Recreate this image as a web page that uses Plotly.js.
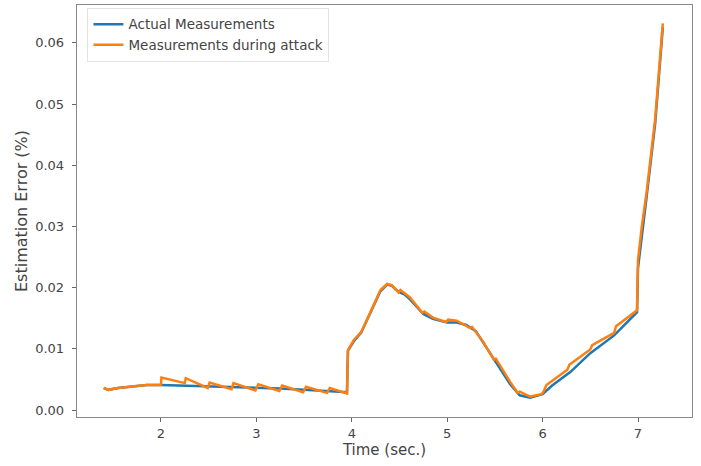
<!DOCTYPE html>
<html>
<head>
<meta charset="utf-8">
<script src="https://cdn.plot.ly/plotly-3.0.1.min.js"></script>
<style>html,body{margin:0;padding:0;background:#fff;}#chart{width:701px;height:466px;}</style>
</head>
<body>
<div id="chart"></div>
<script>
const seriesNames = ["Actual Measurements", "Measurements during attack"];

const actualTime = [1.40, 1.45, 1.55, 1.70, 1.85, 2.00, 2.25, 2.50, 2.75, 3.00, 3.25, 3.50, 3.75, 3.95, 3.96, 4.02, 4.10, 4.19, 4.30, 4.37, 4.42, 4.49, 4.55, 4.61, 4.75, 4.85, 5.00, 5.10, 5.20, 5.30, 5.38, 5.52, 5.66, 5.76, 5.87, 6.00, 6.10, 6.29, 6.50, 6.75, 6.99, 7.00, 7.04, 7.09, 7.18, 7.26];
const actualError = [0.0036, 0.0033, 0.0036, 0.0039, 0.0041, 0.0041, 0.0040, 0.0039, 0.0038, 0.0036, 0.0035, 0.0033, 0.0031, 0.0029, 0.0097, 0.0112, 0.0127, 0.0156, 0.0194, 0.0205, 0.0203, 0.0193, 0.0189, 0.0181, 0.0157, 0.0149, 0.0143, 0.0143, 0.0139, 0.0129, 0.0110, 0.0075, 0.0042, 0.0024, 0.0020, 0.0026, 0.0040, 0.0062, 0.0093, 0.0122, 0.0160, 0.0232, 0.0288, 0.0348, 0.0468, 0.0626];

const attackTime = [1.40, 1.45, 1.55, 1.70, 1.85, 2.00, 2.005, 2.25, 2.26, 2.49, 2.51, 2.74, 2.76, 2.99, 3.02, 3.24, 3.27, 3.49, 3.52, 3.74, 3.77, 3.95, 3.96, 4.02, 4.10, 4.19, 4.30, 4.37, 4.42, 4.49, 4.51, 4.61, 4.74, 4.76, 4.85, 4.99, 5.01, 5.10, 5.24, 5.26, 5.38, 5.49, 5.51, 5.66, 5.74, 5.76, 5.87, 5.99, 6.01, 6.04, 6.26, 6.28, 6.50, 6.52, 6.75, 6.77, 6.99, 7.00, 7.04, 7.09, 7.18, 7.26];
const attackError = [0.0036, 0.0033, 0.0036, 0.0039, 0.0041, 0.0041, 0.0053, 0.0044, 0.0052, 0.0036, 0.0045, 0.0034, 0.0044, 0.0032, 0.0042, 0.0031, 0.0040, 0.0029, 0.0038, 0.0028, 0.0036, 0.0027, 0.0098, 0.0114, 0.0128, 0.0158, 0.0196, 0.0206, 0.0204, 0.0192, 0.0196, 0.0184, 0.0159, 0.0161, 0.0151, 0.0144, 0.0148, 0.0146, 0.0134, 0.0136, 0.0111, 0.0082, 0.0084, 0.0046, 0.0028, 0.0030, 0.0022, 0.0026, 0.0030, 0.0041, 0.0066, 0.0074, 0.0099, 0.0106, 0.0126, 0.0137, 0.0163, 0.0245, 0.0300, 0.0356, 0.0476, 0.0632];

const xTicks = [2, 3, 4, 5, 6, 7];
const yTicks = [0, 0.01, 0.02, 0.03, 0.04, 0.05, 0.06];
const yTickText = ["0.00", "0.01", "0.02", "0.03", "0.04", "0.05", "0.06"];

const traces = [
  {x: actualTime, y: actualError, name: seriesNames[0], mode: "lines", line: {color: "#1f77b4", width: 2.5}},
  {x: attackTime, y: attackError, name: seriesNames[1], mode: "lines", line: {color: "#ff7f0e", width: 2.5}}
];

const axisCommon = {
  showgrid: false, zeroline: false, showline: true, mirror: true,
  linecolor: "#888", linewidth: 1.3,
  ticks: "outside", ticklen: 4, tickwidth: 1, tickcolor: "#666",
  tickfont: {family: "DejaVu Sans", size: 13, color: "#444"}
};

const layout = {
  width: 701, height: 466,
  margin: {l: 77, r: 9, t: 5, b: 49},
  paper_bgcolor: "#fff", plot_bgcolor: "#fff",
  font: {family: "DejaVu Sans", color: "#444"},
  showlegend: true,
  legend: {x: 0.017, y: 0.993, xanchor: "left", yanchor: "top",
    bgcolor: "rgba(255,255,255,0.9)", bordercolor: "#e2e2e2", borderwidth: 1,
    font: {family: "DejaVu Sans", size: 13.5, color: "#444"}, tracegroupgap: 0},
  xaxis: Object.assign({}, axisCommon, {
    range: [1.12, 7.566], tickvals: xTicks, ticktext: xTicks.map(String),
    title: {text: "Time (sec.)", font: {family: "DejaVu Sans", size: 15, color: "#444"}, standoff: 2}
  }),
  yaxis: Object.assign({}, axisCommon, {
    range: [-0.00114, 0.0662], tickvals: yTicks, ticktext: yTickText,
    ticklabelstandoff: 5,
    title: {text: "Estimation Error (%)", font: {family: "DejaVu Sans", size: 16, color: "#444"}, standoff: 3}
  })
};

Plotly.newPlot("chart", traces, layout, {displayModeBar: false, staticPlot: true});
</script>
</body>
</html>
